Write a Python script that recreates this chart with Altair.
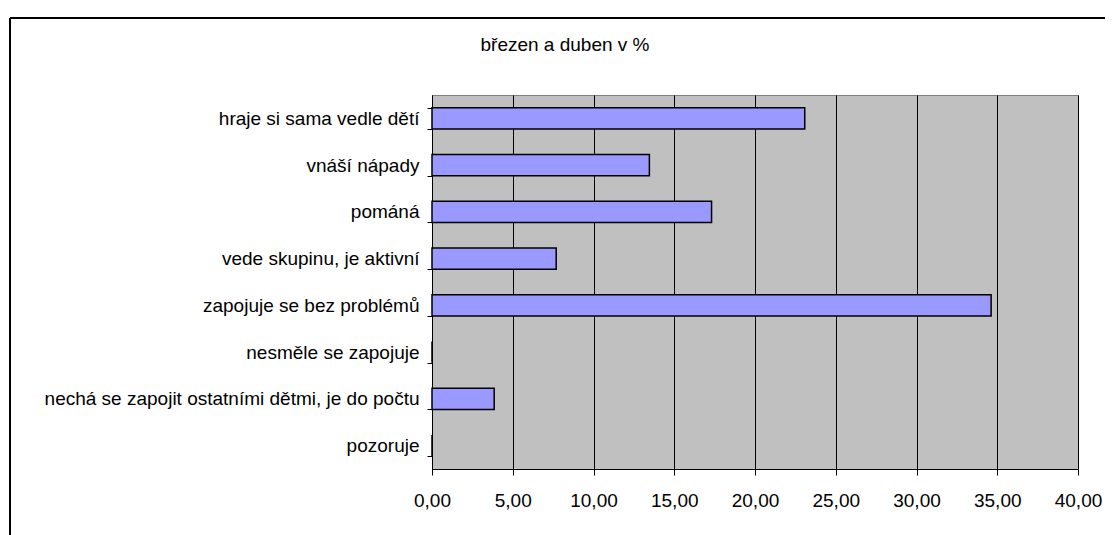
import altair as alt
import pandas as pd

categories = [
    "hraje si sama vedle dětí",
    "vnáší nápady",
    "pománá",
    "vede skupinu, je aktivní",
    "zapojuje se bez problémů",
    "nesměle se zapojuje",
    "nechá se zapojit ostatními dětmi, je do počtu",
    "pozoruje",
]
values = [23.08, 13.46, 17.31, 7.69, 34.62, 0.0, 3.85, 0.0]
x_ticks = [0, 5, 10, 15, 20, 25, 30, 35, 40]
title_text = "březen a duben v %"

df = pd.DataFrame({"kategorie": categories, "hodnota": values})

FONT = "Liberation Sans"
W, H = 646, 374

bars = alt.Chart(df).mark_bar(
    color="#9999FF", stroke="#000000", strokeWidth=1.5
).encode(
    y=alt.Y(
        "kategorie:N",
        sort=categories,
        title=None,
        scale=alt.Scale(paddingInner=0.55, paddingOuter=0.275),
        axis=alt.Axis(
            tickBand="extent",
            tickSize=5,
            tickColor="#000000",
            domainColor="#000000",
            domainWidth=1,
            labelColor="#000000",
            labelFont=FONT,
            labelFontSize=19,
            labelPadding=8,
            labelLimit=0,
            grid=False,
        ),
    ),
    x=alt.X(
        "hodnota:Q",
        title=None,
        scale=alt.Scale(domain=[0, 40], nice=False),
        axis=alt.Axis(
            values=x_ticks,
            labelExpr="replace(format(datum.value, '.2f'), '.', ',')",
            labelFlush=False,
            labelOverlap=False,
            tickSize=6,
            tickColor="#000000",
            domainColor="#000000",
            labelColor="#000000",
            labelFont=FONT,
            labelFontSize=19,
            labelPadding=16,
            grid=True,
            gridColor="#000000",
            gridWidth=1,
            gridOpacity=1,
        ),
    ),
)

frame_top = alt.Chart(df).mark_rule(color="#000000", strokeWidth=1).encode(
    x=alt.value(-422), x2=alt.value(690), y=alt.value(-77)
)
frame_left = alt.Chart(df).mark_rule(color="#000000", strokeWidth=1).encode(
    x=alt.value(-422), y=alt.value(-77), y2=alt.value(460)
)
title_mark = alt.Chart(pd.DataFrame({"t": [title_text]})).mark_text(
    font=FONT, fontSize=19, color="#000000", align="center", baseline="middle"
).encode(
    text="t:N", x=alt.value(133), y=alt.value(-50)
)

chart = alt.layer(bars, frame_top, frame_left, title_mark).properties(
    width=W,
    height=H,
    autosize=alt.AutoSizeParams(type="none"),
    padding={"left": 424, "top": 87, "right": 27, "bottom": 66},
    background="#FFFFFF",
).configure_view(
    fill="#C0C0C0", stroke="#808080", strokeWidth=1
)

chart.save("out.html", embed_options={"renderer": "svg", "actions": False})
